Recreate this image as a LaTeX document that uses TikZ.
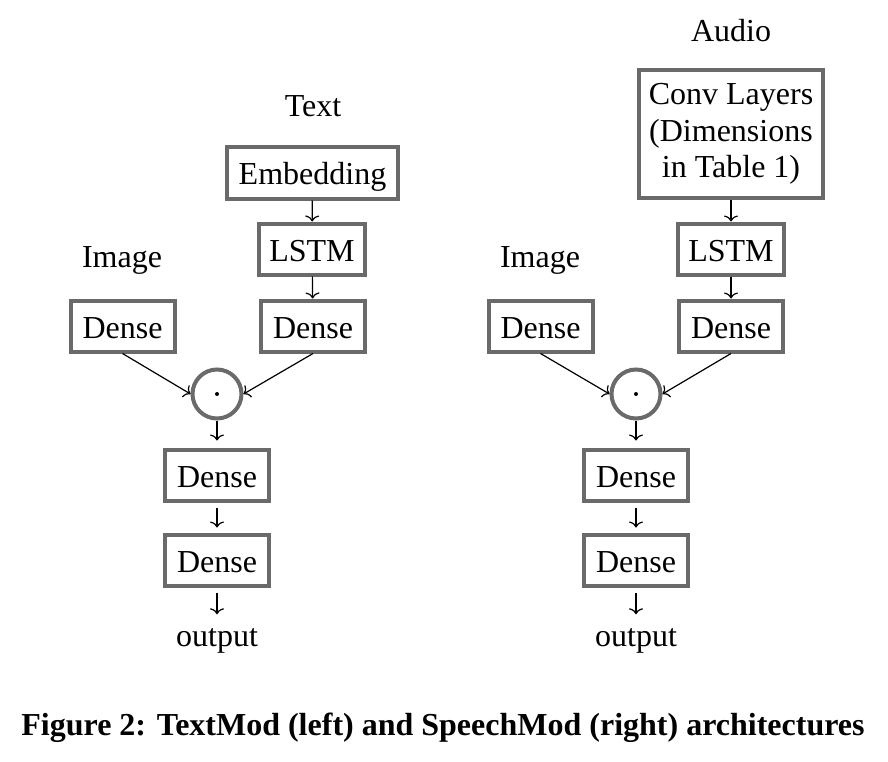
\documentclass[tikz,border=0pt]{standalone}
\usepackage{fontspec}
\setmainfont{Liberation Serif}
\usetikzlibrary{arrows.meta}
\definecolor{boxgray}{HTML}{6A6A6A}
\begin{document}
\begin{tikzpicture}[x=1pt,y=-1pt,
  every node/.style={font=\fontsize{32}{36.5}\selectfont},
  layer/.style={draw=boxgray,line width=4pt,fill=white,inner xsep=10pt,inner ysep=0pt,
    minimum height=51pt,text height=24pt,text depth=0pt},
  dense/.style={layer,minimum width=104pt},
  lbl/.style={inner sep=0pt,text height=22pt,text depth=7pt},
  dotc/.style={draw=boxgray,line width=4pt,circle,minimum size=49pt,inner sep=0pt},
  flow/.style={line width=1.2pt,-{To[length=6pt,width=14pt]}}
]
\useasboundingbox (0,0) rectangle (888,762);

% ---------- left: TextMod ----------
\node[lbl] (txt) at (313,109) {Text};
\node[layer,minimum width=171pt] (emb) at (312.5,173) {Embedding};
\node[layer,minimum width=106pt] (lstmL) at (312,249) {LSTM};
\node[lbl] (imgL) at (122,260) {Image};
\node[dense] (diL) at (122.5,326) {Dense};
\node[dense] (dtL) at (313,326) {Dense};
\node[dotc] (cL) at (217,394) {};
\fill (cL.center) circle (2pt);
\node[dense] (d1L) at (217,475) {Dense};
\node[dense] (d2L) at (217,560) {Dense};
\node[lbl] (outL) at (217,639) {output};

\draw[flow] (emb) -- (lstmL);
\draw[flow] (lstmL) -- (dtL);
\draw[flow] (diL.south) -- (cL.west);
\draw[flow] (dtL.south) -- (cL.east);
\draw[flow,shorten >=7pt] (cL) -- (d1L);
\draw[flow,shorten <=5pt,shorten >=5pt] (d1L) -- (d2L);
\draw[flow,shorten <=5pt,shorten >=10pt] (d2L) -- (outL);

% ---------- right: SpeechMod ----------
\node[lbl] (aud) at (731,34) {Audio};
\node[draw=boxgray,line width=4pt,fill=white,align=center,inner xsep=9pt,
  minimum width=184pt,minimum height=128pt] (conv) at (731,134)
  {Conv Layers\\(Dimensions\\in Table 1)};
\node[layer,minimum width=106pt] (lstmR) at (731,249) {LSTM};
\node[lbl] (imgR) at (540,260) {Image};
\node[dense] (diR) at (540.5,326) {Dense};
\node[dense] (dtR) at (731,326) {Dense};
\node[dotc] (cR) at (636,394) {};
\fill (cR.center) circle (2pt);
\node[dense] (d1R) at (636,475) {Dense};
\node[dense] (d2R) at (636,560) {Dense};
\node[lbl] (outR) at (636,639) {output};

\draw[flow] (conv) -- (lstmR);
\draw[flow] (lstmR) -- (dtR);
\draw[flow] (diR.south) -- (cR.west);
\draw[flow] (dtR.south) -- (cR.east);
\draw[flow,shorten >=7pt] (cR) -- (d1R);
\draw[flow,shorten <=5pt,shorten >=5pt] (d1R) -- (d2R);
\draw[flow,shorten <=5pt,shorten >=10pt] (d2R) -- (outR);

% ---------- caption ----------
\node[inner sep=0pt,font=\fontsize{32}{36}\selectfont\bfseries] (cap) at (443,728)
  {Figure 2: TextMod (left) and SpeechMod (right) architectures};
\end{tikzpicture}
\end{document}
